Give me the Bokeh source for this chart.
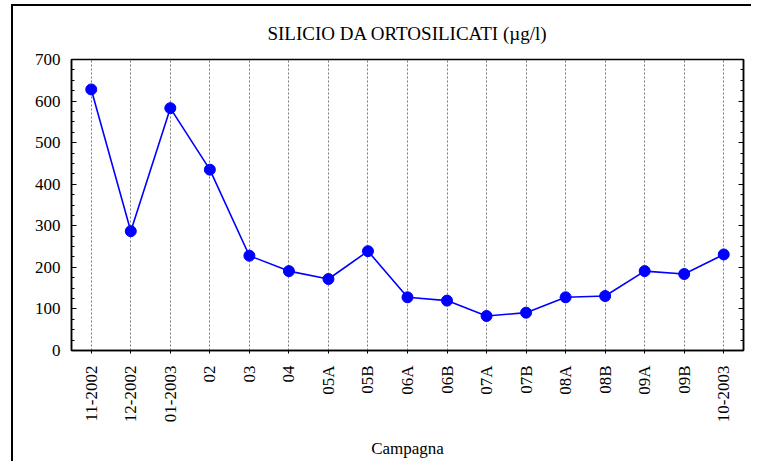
from bokeh.plotting import figure
from bokeh.models import FactorRange, Range1d, LinearAxis, FixedTicker, Title
from bokeh.layouts import column
from bokeh.embed import file_html
from bokeh.resources import INLINE
from math import pi

categories = ["11-2002", "12-2002", "01-2003", "02", "03", "04", "05A", "05B",
              "06A", "06B", "07A", "07B", "08A", "08B", "09A", "09B", "10-2003"]
silicio = [628, 287, 583, 435, 228, 191, 172, 239, 128, 120, 83, 91, 128, 131, 191, 184, 231]
y_ticks = [0, 100, 200, 300, 400, 500, 600, 700]
title_text = "SILICIO DA ORTOSILICATI (µg/l)"

FONT = "Liberation Serif"

p = figure(frame_width=672, frame_height=291, output_backend="svg", toolbar_location=None,
           x_range=FactorRange(factors=categories, range_padding=0),
           y_range=Range1d(0, 700))

p.min_border_left = 58
p.min_border_right = 8
p.min_border_top = 53
p.min_border_bottom = 100

p.title = Title(text=title_text, align="center", vertical_align="top",
                text_font=FONT, text_font_size="19px", text_font_style="normal",
                text_color="black", standoff=28, offset=-5)

p.outline_line_color = "black"
p.outline_line_width = 1.5

p.line(x=categories, y=silicio, line_color="#0000FF", line_width=1.6)
p.scatter(x=categories, y=silicio, size=11, fill_color="#0000FF", line_color="#0000FF")

p.ygrid.grid_line_color = None
p.xgrid.grid_line_color = "#777777"
p.xgrid.grid_line_dash = "2 2"
p.xgrid.grid_line_width = 1

xa = p.xaxis[0]
xa.major_label_orientation = pi / 2
xa.major_label_text_font = FONT
xa.major_label_text_font_size = "17px"
xa.major_label_text_color = "black"
xa.major_label_standoff = 12
xa.major_tick_in = 0
xa.major_tick_out = 3
xa.axis_line_width = 1.5
xa.axis_label = "Campagna"
xa.axis_label_text_font = FONT
xa.axis_label_text_font_size = "17px"
xa.axis_label_text_font_style = "normal"
xa.axis_label_text_color = "black"
xa.axis_label_standoff = 14

ya = p.yaxis[0]
ya.ticker = FixedTicker(ticks=y_ticks, minor_ticks=list(range(0, 701, 25)))
ya.major_label_text_font = FONT
ya.major_label_text_font_size = "17px"
ya.major_label_text_color = "black"
ya.major_label_standoff = 11
ya.major_tick_in = 5
ya.major_tick_out = 0
ya.minor_tick_in = 3
ya.minor_tick_out = 0
ya.axis_line_width = 1.5

ra = LinearAxis(ticker=FixedTicker(ticks=y_ticks, minor_ticks=list(range(0, 701, 25))))
ra.major_label_overrides = {t: "" for t in y_ticks}
ra.major_label_standoff = 0
ra.major_tick_in = 5
ra.major_tick_out = 0
ra.minor_tick_in = 3
ra.minor_tick_out = 0
ra.axis_line_width = 1.5
p.add_layout(ra, "right")

layout = column(p, styles={"border-left": "2px solid black", "border-top": "2px solid black",
                           "margin-left": "11px", "margin-top": "4px"})

open("out.html", "w").write(file_html(layout, INLINE))
